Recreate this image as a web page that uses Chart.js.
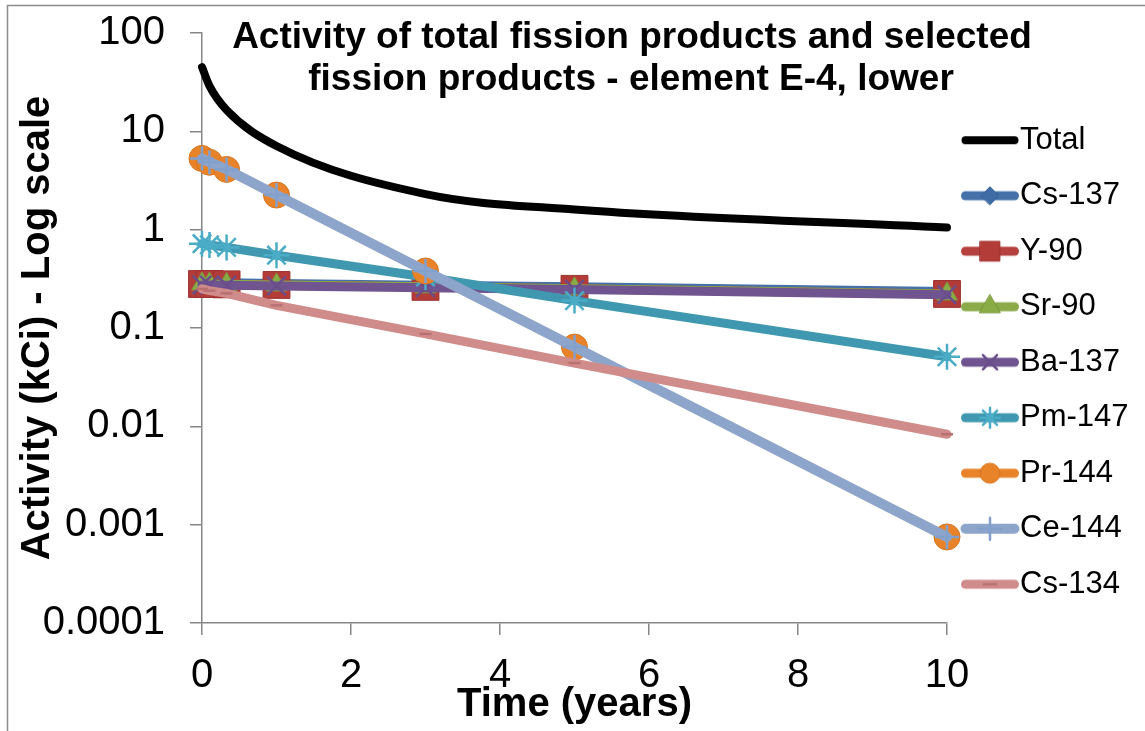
<!DOCTYPE html>
<html><head><meta charset="utf-8">
<script src="https://cdn.jsdelivr.net/npm/chart.js@4.4.1/dist/chart.umd.min.js"></script>
<style>html,body{margin:0;padding:0;background:#fff;overflow:hidden}#wrap{position:relative;width:1145px;height:731px}</style>
</head><body><div id="wrap"><canvas id="c" width="1145" height="731"></canvas></div>
<script>
// ---- data ----
const years = [0, 0.1, 0.33, 1, 3, 5, 10];
const seriesNames = ['Total', 'Cs-137', 'Y-90', 'Sr-90', 'Ba-137', 'Pm-147', 'Pr-144', 'Ce-144', 'Cs-134'];
const totalVals = [45, 29, 16.5, 7.1, 2.3, 1.6, 1.05];
const cs137Vals = [0.29, 0.29, 0.288, 0.284, 0.272, 0.262, 0.235];
const y90Vals = [0.28, 0.28, 0.278, 0.274, 0.262, 0.25, 0.222];
const sr90Vals = [0.28, 0.28, 0.278, 0.274, 0.262, 0.25, 0.222];
const ba137Vals = [0.274, 0.274, 0.272, 0.268, 0.257, 0.247, 0.218];
const pm147Vals = [0.72, 0.70, 0.66, 0.55, 0.33, 0.19, 0.051];
const pr144Vals = [5.3, 4.85, 4.1, 2.25, 0.38, 0.064, 0.00075];
const ce144Vals = [5.3, 4.85, 4.1, 2.25, 0.38, 0.064, 0.00075];
const cs134Vals = [0.25, 0.24, 0.225, 0.17, 0.087, 0.044, 0.0083];
const yTickValues = [0.0001, 0.001, 0.01, 0.1, 1, 10, 100];
const yTickLabels = ['0.0001', '0.001', '0.01', '0.1', '1', '10', '100'];
const xTickValues = [0, 2, 4, 6, 8, 10];
const xTickLabels = ['0', '2', '4', '6', '8', '10'];
const titleLines = ['Activity of total fission products and selected', 'fission products - element E-4, lower'];
const xAxisTitle = 'Time (years)';
const yAxisTitle = 'Activity (kCi) - Log scale';

// ---- styles ----
const allVals = [totalVals, cs137Vals, y90Vals, sr90Vals, ba137Vals, pm147Vals, pr144Vals, ce144Vals, cs134Vals];
const styles = [
  {line: '#000000', width: 8, style: 'circle', r: 0, fill: '#000', stroke: '#000', bw: 0, lr: 0},
  {line: '#4472A8', width: 9, style: 'rectRot', r: 10, fill: '#3F6CA5', stroke: '#35609A', bw: 1, lr: 9},
  {line: '#B6403D', width: 9, style: 'rect', r: 19, fill: '#B33B38', stroke: '#9E3431', bw: 1, lr: 14},
  {line: '#8AAB47', width: 9, style: 'triangle', r: 12, fill: '#8AAC46', stroke: '#7A9A3C', bw: 1, lr: 12},
  {line: '#70548F', width: 9, style: 'crossRot', r: 13, fill: '#70548F', stroke: '#6A4E8C', bw: 2.5, lr: 10},
  {line: '#3F98B0', width: 9, style: 'star', r: 13, fill: '#4AACC6', stroke: '#4AACC6', bw: 2.5, lr: 10},
  {line: '#E8832A', width: 9, style: 'circle', r: 13, fill: '#E8832A', stroke: '#D7761F', bw: 1, lr: 10},
  {line: '#8EA5CB', width: 10, style: 'cross', r: 12, fill: '#8EA5CB', stroke: '#82A0CC', bw: 2.5, lr: 11},
  {line: '#D08C8B', width: 9, style: 'line', r: 6, fill: '#B87170', stroke: '#B87170', bw: 2.5, lr: 6}
];

const FONT = "'Liberation Sans', Arial, sans-serif";
Chart.defaults.font.family = FONT;
Chart.defaults.color = '#000';

const datasets = seriesNames.map((name, i) => {
  const s = styles[i];
  return {
    label: name,
    data: years.map((x, k) => ({x: x, y: allVals[i][k]})),
    borderColor: s.line,
    backgroundColor: s.line,
    borderWidth: s.width,
    borderCapStyle: 'round',
    borderJoinStyle: 'round',
    pointStyle: s.style,
    pointRadius: s.r,
    pointHoverRadius: s.r,
    pointBackgroundColor: s.fill,
    pointBorderColor: s.stroke,
    pointBorderWidth: s.bw,
    tension: 0,
    cubicInterpolationMode: i === 0 ? 'monotone' : 'default',
    clip: false,
    order: seriesNames.length - i
  };
});

function legendIcon(i) {
  const s = styles[i];
  const c = document.createElement('canvas');
  c.width = 70; c.height = 34;
  const g = c.getContext('2d');
  const cx = 37, cy = 17;
  g.strokeStyle = s.line; g.lineWidth = s.width; g.lineCap = 'round';
  g.beginPath(); g.moveTo(cx - 24.5, cy); g.lineTo(cx + 24.5, cy); g.stroke();
  if (s.lr > 0 && Chart.helpers && Chart.helpers.drawPoint) {
    g.fillStyle = s.fill; g.strokeStyle = s.stroke; g.lineWidth = s.bw;
    Chart.helpers.drawPoint(g, {pointStyle: s.style, radius: s.lr, rotation: 0, borderWidth: s.bw}, cx, cy);
  }
  return c;
}
const icons = seriesNames.map((n, i) => legendIcon(i));

// right padding so that the plot area ends where the reference has x = 10
const LEG_FONT = 31, LEG_PAD = 24.5, LEG_BOX = 33;
const mctx = document.createElement('canvas').getContext('2d');
mctx.font = LEG_FONT + 'px ' + FONT;
const maxText = Math.max(...seriesNames.map(n => mctx.measureText(n).width));
const legendWidth = LEG_PAD + LEG_BOX + LEG_FONT / 2 + maxText;
const PLOT_RIGHT = 946, PLOT_TOP = 33, PLOT_BOTTOM = 623, PLOT_LEFT = 202;
const PAD_LEFT = 7, PAD_BOTTOM = 6.5;
const padRight = 1145 - PLOT_RIGHT - legendWidth - 11;

const framePlugin = {
  id: 'frame',
  beforeDraw(chart) {
    const ctx = chart.ctx;
    ctx.save();
    ctx.fillStyle = '#fff';
    ctx.fillRect(0, 0, chart.width, chart.height);
    ctx.strokeStyle = '#8c8c8c';
    ctx.lineWidth = 1.5;
    ctx.beginPath();
    ctx.moveTo(7.5, chart.height + 2);
    ctx.lineTo(7.5, 5.5);
    ctx.lineTo(chart.width + 2, 5.5);
    ctx.stroke();
    ctx.restore();
  },
  afterDraw(chart) {
    const ctx = chart.ctx;
    ctx.save();
    ctx.fillStyle = '#000';
    ctx.font = 'bold 37px ' + FONT;
    ctx.textAlign = 'center';
    ctx.textBaseline = 'alphabetic';
    ctx.fillText(titleLines[0], 632, 48);
    ctx.fillText(titleLines[1], 631, 90);
    ctx.restore();
  }
};

new Chart(document.getElementById('c'), {
  type: 'line',
  data: {datasets: datasets},
  plugins: [framePlugin],
  options: {
    responsive: false,
    animation: false,
    events: [],
    layout: {padding: {left: PAD_LEFT, top: 0, right: padRight, bottom: PAD_BOTTOM}},
    plugins: {
      tooltip: {enabled: false},
      title: {display: false},
      legend: {
        display: true,
        position: 'right',
        align: 'center',
        labels: {
          usePointStyle: true,
          pointStyleWidth: LEG_BOX,
          padding: LEG_PAD,
          color: '#000',
          font: {size: LEG_FONT, family: FONT},
          generateLabels: (chart) => chart.data.datasets.map((ds, i) => ({
            text: ds.label, pointStyle: icons[i], datasetIndex: i, hidden: false,
            lineWidth: 0, fillStyle: 'rgba(0,0,0,0)', strokeStyle: 'rgba(0,0,0,0)', fontColor: '#000'
          }))
        }
      }
    },
    scales: {
      x: {
        type: 'linear',
        min: 0, max: 10,
        afterBuildTicks: (s) => { s.ticks = xTickValues.map(v => ({value: v})); },
        afterFit: (s) => { s.height = 731 - PAD_BOTTOM - PLOT_BOTTOM; },
        ticks: {
          font: {size: 40}, color: '#000', padding: 17, maxRotation: 0,
          callback: (v, i) => xTickLabels[i]
        },
        grid: {display: true, drawOnChartArea: false, drawTicks: true, tickLength: 12, color: '#868686', lineWidth: 1.5},
        border: {display: true, color: '#868686', width: 1.5},
        title: {display: true, text: xAxisTitle, font: {size: 40, weight: 'bold'}, color: '#000', padding: {top: 0, bottom: -4}}
      },
      y: {
        type: 'logarithmic',
        min: 0.0001, max: 100,
        afterBuildTicks: (s) => { s.ticks = yTickValues.map(v => ({value: v})); },
        afterFit: (s) => { s.width = PLOT_LEFT - PAD_LEFT; s.paddingTop = PLOT_TOP; },
        ticks: {
          font: {size: 40}, color: '#000', padding: 25,
          callback: (v, i) => yTickLabels[i]
        },
        grid: {display: true, drawOnChartArea: false, drawTicks: true, tickLength: 12, color: '#868686', lineWidth: 1.5},
        border: {display: true, color: '#868686', width: 1.5},
        title: {display: true, text: yAxisTitle, font: {size: 40, weight: 'bold'}, color: '#000', padding: {top: 7, bottom: 0}}
      }
    }
  }
});
</script>
</body></html>
